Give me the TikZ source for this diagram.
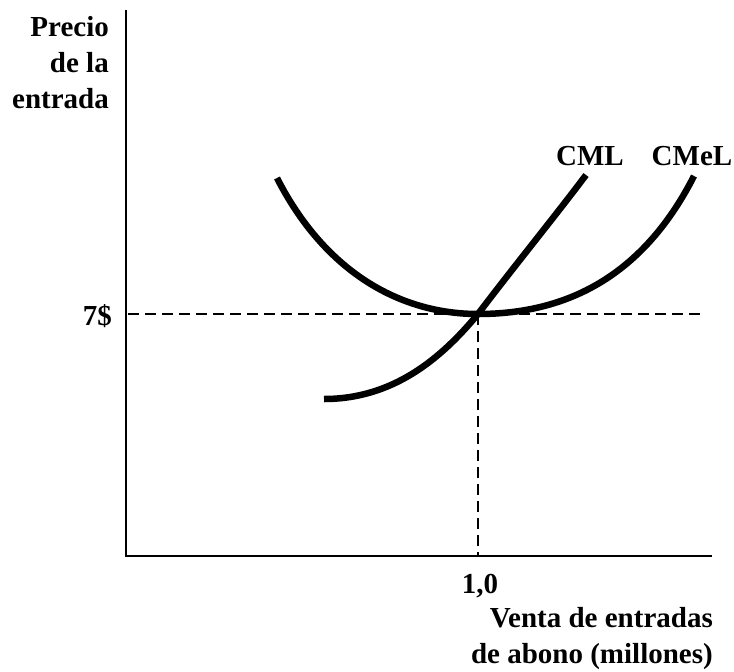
\documentclass[tikz,border=0pt]{standalone}
\usepackage{fontspec}
\setmainfont{Liberation Serif}
\usetikzlibrary{positioning}

\begin{document}
\begin{tikzpicture}[x=1pt, y=-1pt,
    axis/.style={draw=black, line width=1.8pt},
    guide/.style={draw=black, line width=1.4pt, dash pattern=on 11pt off 6pt},
    curve/.style={draw=black, line width=6.5pt},
    label/.style={font=\fontsize{29}{36}\selectfont\bfseries, inner sep=0pt}]
    \useasboundingbox (0,0) rectangle (734,672);

    % axes
    \coordinate (origin) at (126,556);
    \coordinate (ytop) at (126,10);
    \coordinate (xend) at (712,556);
    \draw[axis] (ytop) -- (origin) -- (xend);

    % equilibrium point and guides
    \coordinate (eq) at (478,314);
    \coordinate (yseven) at (128,314);
    \coordinate (hend) at (705,314);
    \coordinate (xone) at (478,556);
    \draw[guide] (yseven) -- (hend);
    \draw[guide] (eq) -- (xone);

    % curves
    \coordinate (cmel start) at (277,178);
    \coordinate (cmel end) at (694,176);
    \coordinate (cml start) at (324,399);
    \coordinate (cml end) at (586,175);
    \draw[curve] (cmel start) .. controls (325,272) and (400,314) .. (eq)
        .. controls (560,314) and (640,282) .. (cmel end);
    \draw[curve] (cml start) .. controls (392,399) and (440,360) .. (eq)
        .. controls (516,264) and (556,215) .. (cml end);

    % labels
    \node (precio) [label, align=right, anchor=base east] at (109,108) {Precio\\de la\\entrada};
    \node (seven) [label, anchor=base east] at (112,325) {7\$};
    \node (one) [label, anchor=base] at (480,593) {1,0};
    \node (venta) [label, align=right, anchor=base east] at (713,663) {Venta de entradas\\de abono (millones)};
    \node (cml) [label, anchor=base] at (590,165) {CML};
    \node (cmel) [label, anchor=base] at (692,165) {CMeL};
\end{tikzpicture}
\end{document}
